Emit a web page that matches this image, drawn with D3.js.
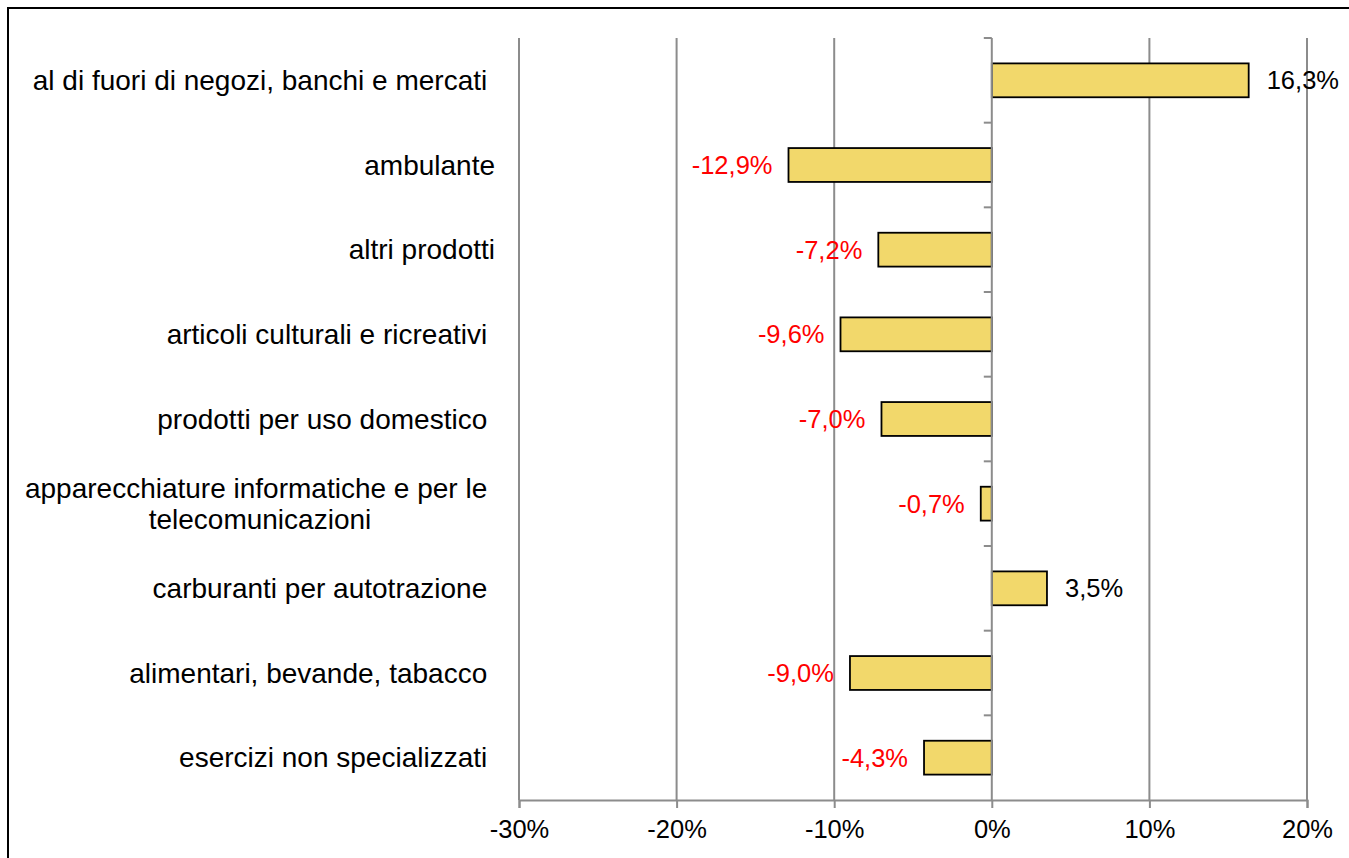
<!DOCTYPE html>
<html>
<head>
<meta charset="utf-8">
<script src="https://cdn.jsdelivr.net/npm/d3@7"></script>
<style>
  body { margin: 0; background: #fff; }
  svg text { font-family: "Liberation Sans", Arial, sans-serif; white-space: pre; }
</style>
</head>
<body>
<div id="chart"></div>
<script>
// categories, top to bottom (trailing spaces are part of the original labels)
var categories = [
  "al di fuori di negozi, banchi e mercati ",
  "ambulante",
  "altri prodotti",
  "articoli culturali e ricreativi ",
  "prodotti per uso domestico ",
  "apparecchiature informatiche e per le \ntelecomunicazioni",
  "carburanti per autotrazione ",
  "alimentari, bevande, tabacco ",
  "esercizi non specializzati "
];
var values = [16.3, -12.9, -7.2, -9.6, -7.0, -0.7, 3.5, -9.0, -4.3];
var xTicks = [-30, -20, -10, 0, 10, 20];

var W = 1349, H = 858;
var margin = { left: 519, right: 42, top: 38, bottom: 58 };
var width = W - margin.left - margin.right;
var height = H - margin.top - margin.bottom;

var data = categories.map(function (c, i) { return { cat: c, val: values[i] }; });

// italian style numbers with a plain hyphen for the minus
var it = d3.formatLocale({ decimal: ",", thousands: ".", grouping: [3], currency: ["", "€"], minus: "-" });
var fmt = it.format(".1f");

var svg = d3.select("#chart").append("svg")
  .attr("width", W)
  .attr("height", H);

// outer frame
svg.append("rect")
  .attr("x", 8).attr("y", 8)
  .attr("width", W).attr("height", H)
  .attr("fill", "none")
  .attr("stroke", "#000")
  .attr("stroke-width", 2);

var g = svg.append("g")
  .attr("transform", "translate(" + margin.left + "," + margin.top + ")");

var x = d3.scaleLinear().domain([-30, 20]).range([0, width]);
var y = d3.scaleBand().domain(categories).range([0, height])
  .paddingInner(0.6).paddingOuter(0.3);

var grid = "#8c8c8c";

// vertical gridlines
g.selectAll(".grid")
  .data(xTicks.filter(function (t) { return t !== 0; }))
  .enter().append("line")
  .attr("class", "grid")
  .attr("x1", function (d) { return x(d); })
  .attr("x2", function (d) { return x(d); })
  .attr("y1", 0).attr("y2", height)
  .attr("stroke", grid).attr("stroke-width", 2);

// bottom axis
var xAxis = d3.axisBottom(x)
  .tickValues(xTicks)
  .tickSize(8)
  .tickFormat(function (d) { return d + "%"; });

var xg = g.append("g")
  .attr("transform", "translate(0," + height + ")")
  .call(xAxis);
xg.select(".domain").attr("stroke", grid).attr("stroke-width", 2);
xg.selectAll(".tick line").attr("stroke", grid).attr("stroke-width", 2);
xg.selectAll(".tick text")
  .attr("y", 20)
  .attr("fill", "#000")
  .style("font-size", "25.5px")
  .style("font-family", "'Liberation Sans', Arial, sans-serif");

// bars
g.selectAll(".bar")
  .data(data).enter().append("rect")
  .attr("class", "bar")
  .attr("x", function (d) { return x(Math.min(0, d.val)); })
  .attr("y", function (d) { return y(d.cat); })
  .attr("width", function (d) { return Math.abs(x(d.val) - x(0)); })
  .attr("height", y.bandwidth())
  .attr("fill", "#f2d86b")
  .attr("stroke", "#000")
  .attr("stroke-width", 1.8);

// zero (category) axis with ticks at band boundaries
g.append("line")
  .attr("x1", x(0)).attr("x2", x(0))
  .attr("y1", 0).attr("y2", height)
  .attr("stroke", grid).attr("stroke-width", 2);

var bounds = d3.range(categories.length).map(function (i) { return i * y.step(); });
g.selectAll(".ctick")
  .data(bounds).enter().append("line")
  .attr("class", "ctick")
  .attr("x1", x(0) - 8).attr("x2", x(0))
  .attr("y1", function (d) { return d; })
  .attr("y2", function (d) { return d; })
  .attr("stroke", grid).attr("stroke-width", 2);

// value labels
g.selectAll(".val")
  .data(data).enter().append("text")
  .attr("class", "val")
  .attr("x", function (d) { return d.val >= 0 ? x(d.val) + 18 : x(d.val) - 16; })
  .attr("y", function (d) { return y(d.cat) + y.bandwidth() / 2; })
  .attr("dy", "0.35em")
  .attr("text-anchor", function (d) { return d.val >= 0 ? "start" : "end"; })
  .attr("fill", function (d) { return d.val >= 0 ? "#000" : "#ff0000"; })
  .style("font-size", "25.5px")
  .text(function (d) { return fmt(d.val) + "%"; });

// category labels (multi-line labels centred inside a right-aligned block)
var labelRight = -24;
var lineH = 31;
g.selectAll(".cat")
  .data(data).enter().append("text")
  .attr("class", "cat")
  .style("font-size", "28px")
  .attr("fill", "#000")
  .each(function (d) {
    var t = d3.select(this);
    var lines = d.cat.split("\n");
    var cy = y(d.cat) + y.bandwidth() / 2;
    var spans = lines.map(function (l, i) {
      return t.append("tspan")
        .attr("y", cy + (i - (lines.length - 1) / 2) * lineH)
        .attr("dy", "0.35em")
        .text(l);
    });
    if (lines.length === 1) {
      t.attr("text-anchor", "end");
      spans[0].attr("x", labelRight);
    } else {
      var maxW = d3.max(spans, function (s) { return s.node().getComputedTextLength(); });
      t.attr("text-anchor", "middle");
      spans.forEach(function (s) { s.attr("x", labelRight - maxW / 2); });
    }
  });
</script>
</body>
</html>
